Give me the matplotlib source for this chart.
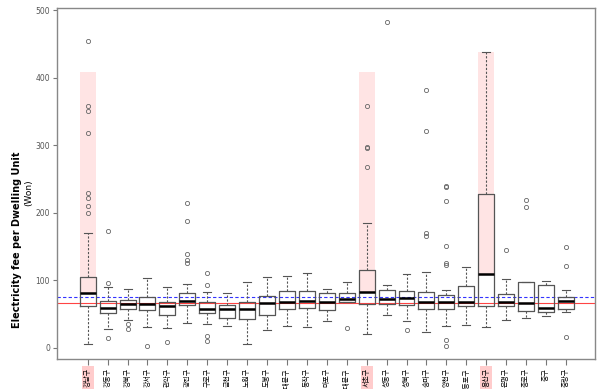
import matplotlib
matplotlib.use('Agg')
import matplotlib.pyplot as plt
from matplotlib.patches import Rectangle

# Seoul districts (gu), Korean alphabetical order
districts = ['강남구', '강동구', '강북구', '강서구', '관악구', '광진구', '구로구', '금천구',
             '노원구', '도봉구', '동대문구', '동작구', '마포구', '서대문구', '서초구', '성동구',
             '성북구', '송파구', '양천구', '영등포구', '용산구', '은평구', '종로구', '중구', '중랑구']

# box statistics per district (Won)
q1 = [61.3, 51.4, 56.8, 55.3, 48.4, 62.8, 51.4, 44.0, 42.0, 48.9, 56.8, 58.3, 55.8,
      67.2, 64.7, 64.7, 63.7, 56.8, 56.8, 61.8, 62.2, 61.8, 54.8, 52.9, 56.8]
med = [81.0, 59.2, 64.7, 64.7, 61.8, 69.2, 57.8, 57.8, 57.8, 66.2, 68.1, 69.6, 67.2,
       71.6, 82.9, 72.1, 73.1, 67.7, 67.2, 67.2, 109.1, 68.1, 66.2, 58.8, 69.6]
q3 = [105.1, 68.7, 71.1, 75.5, 68.1, 81.0, 67.7, 62.8, 67.7, 77.0, 83.5, 83.5, 80.5,
      80.5, 115.0, 85.4, 84.4, 83.0, 78.0, 91.8, 227.2, 79.0, 96.8, 93.3, 74.6]
whis_lo = [5.0, 28.1, 41.0, 30.2, 29.2, 36.1, 35.5, 32.1, 5.5, 25.7, 31.6, 30.7, 40.0,
           67.2, 20.7, 48.4, 40.0, 22.8, 32.1, 33.2, 30.7, 41.0, 44.0, 47.4, 52.9]
whis_hi = [170.3, 89.4, 87.4, 103.7, 90.3, 94.8, 83.0, 80.5, 96.8, 104.7, 106.2, 110.6, 86.4,
           97.7, 185.1, 92.4, 108.6, 112.1, 85.0, 119.0, 437.9, 102.2, 96.8, 99.2, 85.0]
outliers = [
    [454.6, 358.0, 351.0, 318.0, 229.5, 221.7, 210.0, 200.0],
    [172.8, 96.3, 14.4],
    [35.1, 27.2],
    [3.0],
    [8.4],
    [214.7, 188.0, 138.8, 129.9, 125.9],
    [110.6, 92.4, 17.3, 9.9],
    [],
    [],
    [],
    [],
    [],
    [],
    [29.6],
    [358.4, 297.0, 295.0, 268.0],
    [482.8],
    [26.7],
    [381.0, 321.3, 169.4, 165.4],
    [240.0, 238.5, 217.2, 151.0, 125.9, 122.0, 11.4, 2.5],
    [],
    [],
    [144.2],
    [218.7, 208.8],
    [],
    [149.1, 121.4, 15.4],
]

# districts to emphasise and the top of their shaded band
hl_names = ['강남구', '서초구', '용산구']
hl_top = [409, 409, 438]

overall_median = 66.2
overall_mean = 75.5

stats = []
for i, name in enumerate(districts):
    stats.append(dict(label=name, q1=q1[i], med=med[i], q3=q3[i],
                      whislo=whis_lo[i], whishi=whis_hi[i], fliers=outliers[i]))
positions = list(range(1, len(districts) + 1))

fig = plt.figure(figsize=(6, 3.89), dpi=100)
ax = fig.add_axes([0.095, 0.0771, 0.897, 0.9016])

pink = '#ffe4e4'
for name, top in zip(hl_names, hl_top):
    i = districts.index(name)
    ax.add_patch(Rectangle((positions[i] - 0.4, med[i]), 0.8, top - med[i],
                           facecolor=pink, edgecolor='none', zorder=0))

edge = '#555555'
ax.bxp(stats, positions=positions, widths=0.8, capwidths=0.4,
       boxprops=dict(color=edge, lw=0.9),
       medianprops=dict(color='black', lw=1.8),
       whiskerprops=dict(color=edge, lw=0.8, ls=(0, (2, 1.5))),
       capprops=dict(color=edge, lw=0.8),
       flierprops=dict(marker='o', markersize=3, markerfacecolor='none',
                       markeredgecolor='#666666', markeredgewidth=0.6))

ax.axhline(overall_median, color='#ff4444', lw=0.8, zorder=1)
ax.axhline(overall_mean, color='#3333ff', lw=0.8, ls=(0, (3, 2)), zorder=1)

ax.set_xlim(-0.54, 26.47)
ax.set_ylim(-16.7, 502.6)
ax.set_yticks([0, 100, 200, 300, 400, 500])
ax.tick_params(axis='y', labelsize=5.5, labelcolor='#555555', color='#777777', length=3, width=0.8, pad=2)
ax.set_xticks(positions)
ax.set_xticklabels(districts, rotation=90, fontsize=5, family=['Noto Sans CJK KR', 'DejaVu Sans'])
ax.tick_params(axis='x', color='#777777', length=4, width=0.8, pad=2.5)
for lab in ax.get_xticklabels():
    if lab.get_text() in hl_names:
        lab.set_bbox(dict(facecolor='#ffcccc', edgecolor='none', pad=1.5))
for s in ax.spines.values():
    s.set_color('#888888')
    s.set_linewidth(1)

fig.text(0.029, 0.383, 'Electricity fee per Dwelling Unit', rotation=90, fontsize=7,
         fontweight='bold', family='DejaVu Sans', ha='center', va='center')
fig.text(0.048, 0.504, '(Won)', rotation=90, fontsize=6.5,
         family='DejaVu Sans', ha='center', va='center')

fig.savefig('out.png', dpi=100)
